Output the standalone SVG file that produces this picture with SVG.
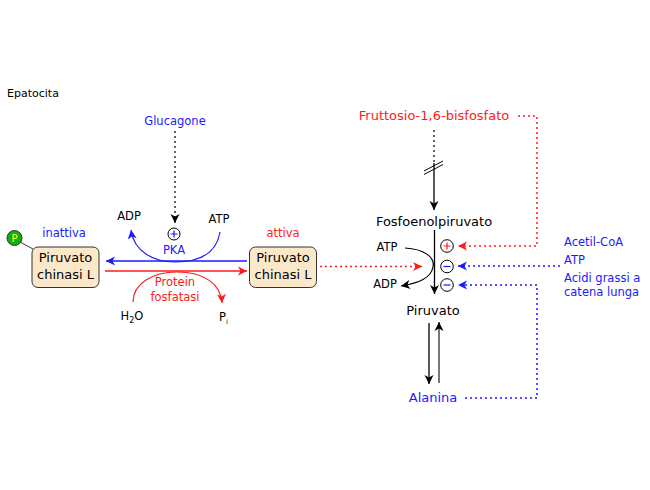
<svg xmlns="http://www.w3.org/2000/svg" width="650" height="490" viewBox="0 0 650 490">
<defs>
<marker id="ak" markerUnits="userSpaceOnUse" markerWidth="12" markerHeight="12" viewBox="-10 -6 12 12" refX="0" refY="0" orient="auto"><path d="M0,0 L-9,-4.5 L-6.5,0 L-9,4.5 z" fill="#000"/></marker>
<marker id="ab" markerUnits="userSpaceOnUse" markerWidth="12" markerHeight="12" viewBox="-10 -6 12 12" refX="0" refY="0" orient="auto"><path d="M0,0 L-9,-4.5 L-6.5,0 L-9,4.5 z" fill="#1a1aff"/></marker>
<marker id="ar" markerUnits="userSpaceOnUse" markerWidth="12" markerHeight="12" viewBox="-10 -6 12 12" refX="0" refY="0" orient="auto"><path d="M0,0 L-9,-4.5 L-6.5,0 L-9,4.5 z" fill="#ff1a1a"/></marker>
<style>
text{font-family:"DejaVu Sans",Verdana,sans-serif;font-size:11.5px;fill:#000}
.big{font-size:13px}
.b{fill:#1a1aff}
.r{fill:#ff1a1a}
.m{text-anchor:middle}
.box{fill:#fbe8c8;stroke:#333;stroke-width:1}
.c{fill:#fff;stroke:#000;stroke-width:1}
.sl{fill:none;stroke-width:1.2}
.dot{fill:none;stroke-width:1.5;stroke-dasharray:2,3}
</style>
</defs>
<text x="7" y="97" style="font-size:11px">Epatocita</text>
<g id="phospho">
<line x1="20" y1="242" x2="33" y2="249" stroke="#333" stroke-width="1"/>
<circle cx="14.5" cy="238" r="7.5" fill="#11b011" stroke="#333" stroke-width="1"/>
<text x="14.5" y="242" class="m" style="font-size:10px;fill:#ffff33">P</text>
</g>
<g id="pk-inattiva">
<rect class="box" x="32" y="247" width="67" height="40.5" rx="6"/>
<text x="65.5" y="262" class="m big">Piruvato</text>
<text x="65.5" y="279" class="m big">chinasi L</text>
<text x="64" y="237" class="m b">inattiva</text>
</g>
<g id="pk-attiva">
<rect class="box" x="249.5" y="247" width="67" height="40.5" rx="6"/>
<text x="283" y="262" class="m big">Piruvato</text>
<text x="283" y="279" class="m big">chinasi L</text>
<text x="283" y="237" class="m r">attiva</text>
</g>
<g id="glucagone"><text x="175" y="125" class="m b">Glucagone</text></g>
<g id="pka">
<circle class="c" cx="174" cy="234" r="6"/>
<path d="M170.5,234 h7 M174,230.5 v7" stroke="#1a1aff" stroke-width="1.2"/>
<text x="174" y="254" class="m b">PKA</text>
<text x="129" y="220" class="m">ADP</text>
<text x="219" y="223" class="m">ATP</text>
</g>
<g id="fosfatasi">
<text x="175" y="286" class="m r">Protein</text>
<text x="175" y="301" class="m r">fosfatasi</text>
<text x="132" y="320" class="m">H<tspan dy="3" style="font-size:8px">2</tspan><tspan dy="-3">O</tspan></text>
<text x="219" y="321">P<tspan dy="3" style="font-size:7px">i</tspan></text>
</g>
<g id="fruttosio"><text x="434" y="120" class="m big r">Fruttosio-1,6-bisfosfato</text></g>
<g id="pep"><text x="434" y="226" class="m big">Fosfoenolpiruvato</text></g>
<g id="piruvato"><text x="433" y="315" class="m big">Piruvato</text></g>
<g id="alanina"><text x="433" y="402" class="m big b">Alanina</text></g>
<g id="atp-adp-right">
<text x="387" y="251" class="m">ATP</text>
<text x="385" y="288" class="m">ADP</text>
</g>
<g id="regulators">
<circle class="c" cx="447" cy="246" r="6.3"/>
<path d="M443.5,246 h7 M447,242.5 v7" stroke="#ff1a1a" stroke-width="1.2"/>
<circle class="c" cx="447" cy="266.5" r="6.3"/>
<path d="M443.5,266.5 h7" stroke="#1a1aff" stroke-width="1.2"/>
<circle class="c" cx="447" cy="285" r="6.3"/>
<path d="M443.5,285 h7" stroke="#1a1aff" stroke-width="1.2"/>
<text x="564" y="246" class="b">Acetil-CoA</text>
<text x="564" y="264" class="b">ATP</text>
<text x="564" y="282" class="b">Acidi grassi a</text>
<text x="564" y="296" class="b">catena lunga</text>
</g>
<g id="connectors">
<line x1="247" y1="261" x2="106" y2="261" stroke="#1a1aff" stroke-width="1.5" marker-end="url(#ab)"/>
<line x1="105" y1="271" x2="247" y2="271" stroke="#ff1a1a" stroke-width="1.5" marker-end="url(#ar)"/>
<path class="sl" stroke="#1a1aff" d="M220,232 C216,256 195,262 175,262 C154,262 134,252 131,230" marker-end="url(#ab)"/>
<path class="sl" stroke="#ff1a1a" d="M133,302 C133,284 152,272 177,272 C204,272 221,284 222,303" marker-end="url(#ar)"/>
<line class="dot" x1="175" y1="131" x2="175" y2="223" stroke="#333" marker-end="url(#ak)"/>
<line class="dot" x1="320" y1="266.5" x2="422" y2="266.5" stroke="#ff1a1a" marker-end="url(#ar)"/>
<line class="dot" x1="434" y1="130" x2="434" y2="163" stroke="#333"/>
<line x1="434" y1="163" x2="434" y2="210" stroke="#000" stroke-width="1.3" marker-end="url(#ak)"/>
<path d="M424,171 L443,161 M424,174.5 L443,164.5" stroke="#000" stroke-width="1" fill="none"/>
<line x1="434.5" y1="230" x2="434.5" y2="294" stroke="#000" stroke-width="1.3" marker-end="url(#ak)"/>
<path class="sl" stroke="#000" d="M405,248 C424,249 435,257 433,267 C431,278 419,283 401,286" marker-end="url(#ak)"/>
<line x1="429" y1="323" x2="429" y2="384" stroke="#000" stroke-width="1.3" marker-end="url(#ak)"/>
<line x1="439" y1="383" x2="439" y2="322" stroke="#555" stroke-width="1.6" marker-end="url(#ak)"/>
<path class="dot" stroke="#ff1a1a" d="M518,116 H537 V246 H458" marker-end="url(#ar)"/>
<line class="dot" x1="560" y1="266" x2="458" y2="266" stroke="#1a1aff" marker-end="url(#ab)"/>
<path class="dot" stroke="#1a1aff" d="M465,398 H537 V285 H458" marker-end="url(#ab)"/>
</g>
</svg>
